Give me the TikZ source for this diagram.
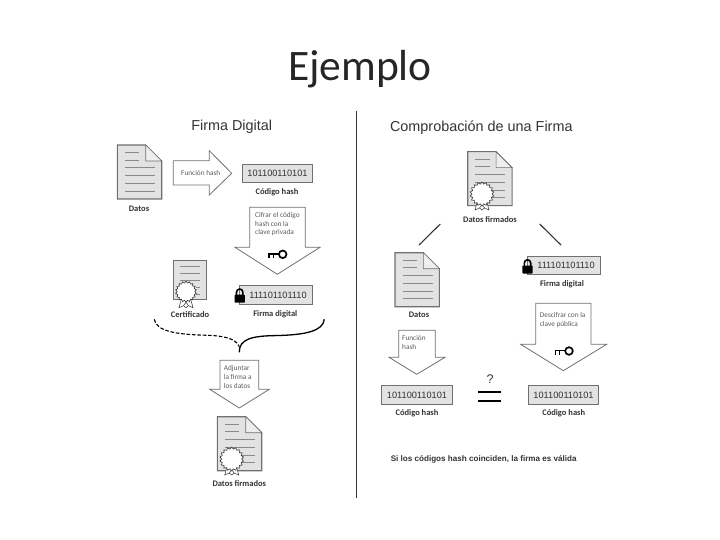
\documentclass[tikz,border=0pt]{standalone}
\usepackage{fontspec}
\setmainfont{Carlito}
\newfontfamily\arialf{Liberation Sans}
\usetikzlibrary{shapes.geometric}
\definecolor{docfill}{HTML}{E2E2E2}
\definecolor{docedge}{HTML}{707070}
\definecolor{docline}{HTML}{8A8A8A}
\definecolor{ink}{HTML}{333333}
\tikzset{
  x=1pt,y=-1pt,
  lbl/.style={font=\fontsize{8.5}{9}\selectfont\bfseries,text=ink,inner sep=0pt},
  small/.style={font=\fontsize{7.3}{8}\selectfont,text=ink!80,inner sep=0pt,anchor=west},
  head/.style={font=\arialf\fontsize{14.4}{16}\selectfont,text=ink,inner sep=0pt},
  bigarrow/.style={draw=docedge,line width=0.8pt,fill=white,line join=miter},
  codebox/.style={draw=docedge,fill=docfill,line width=1pt,inner sep=0pt,
    font=\arialf\fontsize{9.2}{10}\selectfont,text=ink,align=center},
  pics/doc/.style={code={
    \draw[docedge,line width=1.1pt,fill=docfill] (0,0)--(28.4,0)--(44.4,16)--(44.4,54)--(0,54)--cycle;
    \draw[docedge,line width=0.6pt,fill=docfill!60!white] (28.4,0)--(28.4,16)--(44.4,16)--cycle;
    \draw[docline,line width=0.7pt]
      (7.7,7.3)--(22,7.3) (7.7,15)--(22,15)
      (7.7,22.7)--(37.7,22.7) (7.7,30.7)--(37.7,30.7)
      (7.7,38.3)--(37.7,38.3) (7.7,46)--(37.7,46);
  }},
  pics/seal/.style={code={
    \draw[ink,line width=0.5pt,fill=white] (-4,5)--(-7,16)--(-2.5,14)--(0,16)--(2.5,14)--(7,16)--(4,5)--cycle;
    \draw[ink,line width=0.5pt] (-4,5)--(2.5,14) (4,5)--(-2.5,14);
    \node[star,star points=18,star point ratio=1.2,minimum size=#1,inner sep=0pt,draw=ink,fill=white,line width=0.6pt] {};
  }},
  pics/keyicon/.style={code={
    \draw[black,line width=1.7pt] (0,0) circle (3.8);
    \draw[black,line width=1.7pt] (-3.8,-0.4)--(-14.5,-0.4);
    \draw[black,line width=1.6pt] (-13.6,-0.4)--(-13.6,4) (-9.4,-0.4)--(-9.4,4);
  }},
  pics/lockicon/.style={code={
    \draw[black,line width=1.6pt] (-3.2,-7)--(-3.2,-10.5) arc[start angle=180,end angle=360,radius=3.2]--(3.2,-7);
    \fill[black,rounded corners=0.8pt] (-5.2,-8) rectangle (5.2,0);
  }},
}
\begin{document}
\begin{tikzpicture}
\useasboundingbox (0,0) rectangle (720,540);
\node[inner sep=0pt,font=\fontsize{43.5}{46}\selectfont,text=black!85] (title) at (360,69) {Ejemplo};
\coordinate (divtop) at (356.5,111);
\coordinate (divbot) at (356.5,498);
\draw[ink,line width=0.9pt] (divtop)--(divbot);

% ---- left column
\node[head] (hleft) at (231.7,126.7) {Firma Digital};
\pic at (117.3,145) {doc};
\node[lbl] (datos1) at (139,209) {Datos};
\draw[bigarrow] (173.3,160.7)--(209.3,160.7)--(209.3,150.7)--(231.7,173.3)--(209.3,195)--(209.3,185)--(173.3,185)--cycle;
\node[small] (fh1) at (181,172.5) {Función hash};
\node[codebox,minimum width=70.4pt,minimum height=18.7pt] (code1) at (277.5,173.4) {101100110101};
\node[lbl] (lcode1) at (277,192.3) {Código hash};

\draw[bigarrow] (249.7,207.3)--(305.3,207.3)--(305.3,247.3)--(320,247.3)--(277.3,274.3)--(235,247.3)--(249.7,247.3)--cycle;
\node[small] (c1) at (255,215.7) {Cifrar el código};
\node[small] (c2) at (255,224.3) {hash con la};
\node[small] (c3) at (255,233) {clave privada};
\pic at (282.7,254.3) {keyicon};

% certificate
\draw[docedge,line width=1pt,fill=docfill] (173.3,260) rectangle (206,299.3);
\draw[docline,line width=0.7pt] (180,266.5)--(200,266.5) (180,273.5)--(200,273.5) (180,280.5)--(200,280.5) (196,287.5)--(200,287.5) (196,294)--(200,294);
\pic at (186,291.7) {seal={21pt}};
\node[lbl] (lcert) at (190,314.3) {Certificado};

\node[codebox,minimum width=73.4pt,minimum height=18.6pt] (sig1) at (276,295) {\hspace*{4pt}111101101110};
\pic at (239.7,302.7) {lockicon};
\node[lbl] (lsig1) at (275.3,314.3) {Firma digital};

\coordinate (curlL) at (154.3,319.3);
\coordinate (curlR) at (324.3,319.3);
\coordinate (curlM) at (239.3,346.7);
\coordinate (curlMb) at (239.3,352.3);
\draw[black,line width=1.1pt,dash pattern=on 3.6pt off 1.8pt] (curlL) .. controls (156,331) and (176,334.5) .. (205,335.2) .. controls (222,335.6) and (236,338) .. (curlM);
\draw[black,line width=1.3pt] (curlR) .. controls (323,331) and (306,335) .. (275,335.6) .. controls (252,336) and (239,339) .. (curlMb);

\draw[bigarrow] (220,360.3)--(258.7,360.3)--(258.7,389.3)--(269.3,389.3)--(239.3,408)--(209.7,389.3)--(220,389.3)--cycle;
\node[small] (a1) at (223.7,368.7) {Adjuntar};
\node[small] (a2) at (223.7,377.3) {la firma a};
\node[small] (a3) at (223.7,386) {los datos};

\pic at (217.3,416.7) {doc};
\pic at (231.7,459) {seal={24pt}};
\node[lbl] (lsigned1) at (239.3,484) {Datos firmados};

% ---- right column
\node[head] (hright) at (481.3,127.3) {Comprobación de una Firma};
\pic at (467.7,151.7) {doc};
\pic at (482,194) {seal={24pt}};
\node[lbl] (lsigned2) at (490,219.3) {Datos firmados};

\coordinate (la) at (440.3,224);
\coordinate (lb) at (419,245);
\coordinate (ra) at (539.7,224);
\coordinate (rb) at (561,245);
\draw[ink,line width=1.1pt] (la)--(lb);
\draw[ink,line width=1.1pt] (ra)--(rb);

\pic at (395,252.7) {doc};
\node[lbl] (datos2) at (419,315) {Datos};

\node[codebox,minimum width=73.4pt,minimum height=18.3pt] (sig2) at (564,265.2) {\hspace*{4pt}111101101110};
\pic at (527.5,273.5) {lockicon};
\node[lbl] (lsig2) at (562,284) {Firma digital};

\draw[bigarrow] (398.7,330.3)--(435.3,330.3)--(435.3,357.3)--(445,357.3)--(416.7,374.3)--(389,357.3)--(398.7,357.3)--cycle;
\node[small] (f1) at (402,338.3) {Función};
\node[small] (f2) at (402,347) {hash};

\draw[bigarrow] (535.7,303.3)--(591,303.3)--(591,344.3)--(606.7,344.3)--(563.3,370.7)--(520.7,344.3)--(535.7,344.3)--cycle;
\node[small] (d1) at (539.7,315.3) {Descifrar con la};
\node[small] (d2) at (539.7,324.3) {clave pública};
\pic at (569,351) {keyicon};

\node[codebox,minimum width=70.6pt,minimum height=19pt] (code2) at (417,395.2) {101100110101};
\node[lbl] (lcode2) at (417,413.3) {Código hash};
\node[codebox,minimum width=70.4pt,minimum height=19pt] (code3) at (563.5,395.2) {101100110101};
\node[lbl] (lcode3) at (563.7,413) {Código hash};

\node[inner sep=0pt,font=\arialf\fontsize{12.5}{13}\selectfont,text=ink] (q) at (490,379.3) {?};
\coordinate (e1a) at (478.3,391.7); \coordinate (e1b) at (501.3,391.7);
\coordinate (e2a) at (478.3,401.3); \coordinate (e2b) at (501.3,401.3);
\draw[black,line width=2pt] (e1a)--(e1b);
\draw[black,line width=2pt] (e2a)--(e2b);

\node[inner sep=0pt,font=\arialf\bfseries\fontsize{8.1}{9}\selectfont,text=ink] (verdict) at (483.7,459.3) {Si los códigos hash coinciden, la firma es válida};
\end{tikzpicture}
\end{document}
